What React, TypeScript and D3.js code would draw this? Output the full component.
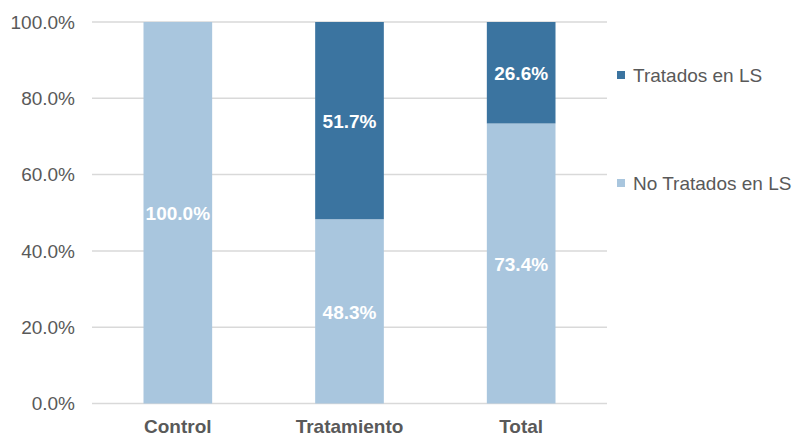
import React, { useRef, useEffect } from 'react';
import * as d3 from 'd3';

const categories = ['Control', 'Tratamiento', 'Total'];
const noTratados = [100.0, 48.3, 73.4];
const tratados = [0, 51.7, 26.6];
const yTicks = [0, 20, 40, 60, 80, 100];
const seriesNames = ['Tratados en LS', 'No Tratados en LS'];

const LIGHT = '#a9c6de';
const DARK = '#3b74a0';
const FONT = 'Arial, "Liberation Sans", sans-serif';

const App = () => {
  const chartRef = useRef<SVGSVGElement>(null);

  useEffect(() => {
    document.body.style.margin = '0';
    const width = 797;
    const height = 436;
    const margin = { top: 22, right: 190, bottom: 32.5, left: 92 };
    const innerW = width - margin.left - margin.right;
    const innerH = height - margin.top - margin.bottom;

    const root = d3.select(chartRef.current);
    root.selectAll('*').remove();
    root.attr('width', width).attr('height', height);

    const svg = root.append('g').attr('transform', `translate(${margin.left},${margin.top})`);

    const x = d3.scaleBand().domain(categories).range([0, innerW]).padding(0);
    const y = d3.scaleLinear().domain([0, 100]).range([innerH, 0]);
    const barW = x.bandwidth() * 0.4;

    // gridlines
    svg
      .selectAll('.grid')
      .data(yTicks)
      .enter()
      .append('line')
      .attr('x1', 0)
      .attr('x2', innerW)
      .attr('y1', (d) => y(d))
      .attr('y2', (d) => y(d))
      .attr('stroke', '#d9d9d9')
      .attr('stroke-width', 1.5);

    const rows = categories.map((c, i) => ({ cat: c, low: noTratados[i], high: tratados[i] }));

    svg
      .selectAll('.bar-low')
      .data(rows)
      .enter()
      .append('rect')
      .attr('x', (d) => x(d.cat)! + (x.bandwidth() - barW) / 2)
      .attr('width', barW)
      .attr('y', (d) => y(d.low))
      .attr('height', (d) => innerH - y(d.low))
      .attr('fill', LIGHT);

    svg
      .selectAll('.bar-high')
      .data(rows.filter((d) => d.high > 0))
      .enter()
      .append('rect')
      .attr('x', (d) => x(d.cat)! + (x.bandwidth() - barW) / 2)
      .attr('width', barW)
      .attr('y', (d) => y(d.low + d.high))
      .attr('height', (d) => y(d.low) - y(d.low + d.high))
      .attr('fill', DARK);

    // value labels
    const labels: { cat: string; v: number; mid: number }[] = [];
    rows.forEach((d) => {
      labels.push({ cat: d.cat, v: d.low, mid: d.low / 2 });
      if (d.high > 0) labels.push({ cat: d.cat, v: d.high, mid: d.low + d.high / 2 });
    });
    svg
      .selectAll('.val')
      .data(labels)
      .enter()
      .append('text')
      .attr('x', (d) => x(d.cat)! + x.bandwidth() / 2)
      .attr('y', (d) => y(d.mid) + 1)
      .attr('dy', '0.35em')
      .attr('text-anchor', 'middle')
      .attr('fill', '#ffffff')
      .attr('font-family', FONT)
      .attr('font-weight', 'bold')
      .attr('font-size', '19px')
      .text((d) => `${d.v.toFixed(1)}%`);

    // y axis labels
    svg
      .selectAll('.ytick')
      .data(yTicks)
      .enter()
      .append('text')
      .attr('x', -17)
      .attr('y', (d) => y(d))
      .attr('dy', '0.35em')
      .attr('text-anchor', 'end')
      .attr('fill', '#595959')
      .attr('font-family', FONT)
      .attr('font-size', '19px')
      .text((d) => `${d.toFixed(1)}%`);

    // x axis labels
    svg
      .selectAll('.xtick')
      .data(categories)
      .enter()
      .append('text')
      .attr('x', (d) => x(d)! + x.bandwidth() / 2)
      .attr('y', innerH + 29)
      .attr('text-anchor', 'middle')
      .attr('fill', '#595959')
      .attr('font-family', FONT)
      .attr('font-weight', 'bold')
      .attr('font-size', '19px')
      .text((d) => d);

    // legend
    const legendY = [75, 183];
    const legendColors = [DARK, LIGHT];
    const legend = root
      .selectAll('.legend')
      .data(seriesNames)
      .enter()
      .append('g')
      .attr('transform', (d, i) => `translate(617,${legendY[i]})`);
    legend
      .append('rect')
      .attr('x', 0)
      .attr('y', -4)
      .attr('width', 8)
      .attr('height', 8)
      .attr('fill', (d, i) => legendColors[i]);
    legend
      .append('text')
      .attr('x', 16)
      .attr('y', 0)
      .attr('dy', '0.35em')
      .attr('fill', '#595959')
      .attr('font-family', FONT)
      .attr('font-size', '19px')
      .text((d) => d);
  }, []);

  return <svg ref={chartRef} style={{ display: 'block' }}></svg>;
};

export default App;
